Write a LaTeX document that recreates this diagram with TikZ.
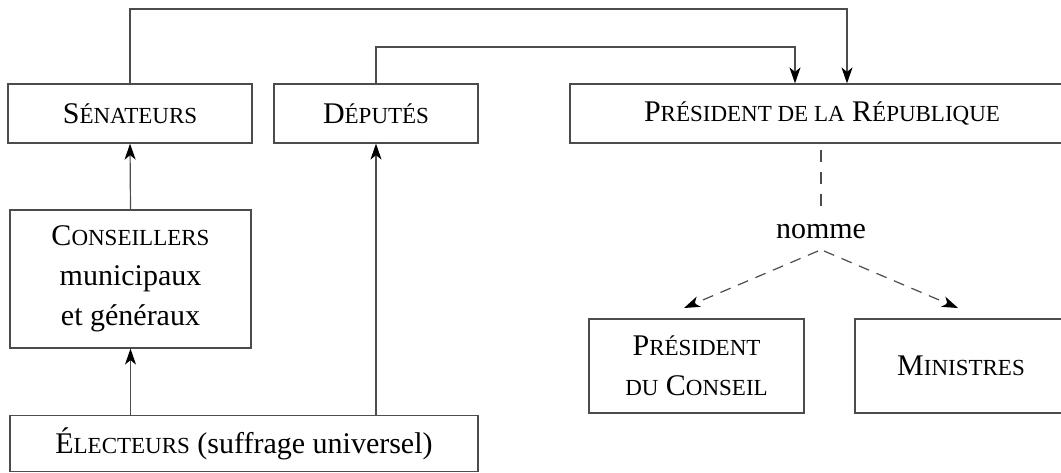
\documentclass[tikz,border=0pt]{standalone}
\usepackage{fontspec}
\setmainfont{Liberation Serif}
\usetikzlibrary{arrows.meta,calc}
\newcommand\smc[1]{{\fontsize{23}{40}\selectfont #1}}
\begin{document}
\begin{tikzpicture}[x=1pt,y=-1pt,
  box/.style={draw=black!70,line width=1.2pt,rectangle,inner sep=0pt,align=center,
    font=\fontsize{30}{40}\selectfont},
  conn/.style={draw=black!70,line width=1.2pt},
  tip/.style={-{Stealth[length=16pt,width=11pt,inset=4.5pt,color=black]}},
  arr/.style={conn,tip},
  dsh/.style={conn,dash pattern=on 11pt off 8pt},
  lbl/.style={inner sep=0pt,font=\fontsize{30}{40}\selectfont}]
\useasboundingbox (0,0) rectangle (1061,472);
\node[box,minimum width=244pt,minimum height=59pt] (sen) at (130,113.5) {S\smc{ÉNATEURS}};
\node[box,minimum width=204pt,minimum height=59pt] (dep) at (376,113.5) {D\smc{ÉPUTÉS}};
\node[box,minimum width=504pt,minimum height=59pt] (pres) at (822,113.5) {P\smc{RÉSIDENT DE LA} R\smc{ÉPUBLIQUE}};
\node[box,minimum width=241pt,minimum height=138pt] (cons) at (130.5,279) {C\smc{ONSEILLERS}\\municipaux\\et généraux};
\node[box,minimum width=468pt,minimum height=56pt] (elec) at (244,443.5) {É\smc{LECTEURS} (suffrage universel)};
\node[box,minimum width=215pt,minimum height=94pt] (pdc) at (696.5,366) {P\smc{RÉSIDENT}\\\smc{DU} C\smc{ONSEIL}};
\node[box,minimum width=212pt,minimum height=94pt] (min) at (961,366) {M\smc{INISTRES}};
\node[lbl] (nom) at (821,232) {nomme};
\coordinate (t1) at (847,9);
\coordinate (t2) at (795,47);
\coordinate (nl) at (818,251);
\coordinate (nr) at (824,251);
\coordinate (el) at (684,308);
\coordinate (er) at (958,308);
\coordinate (de) at (821,207);
\draw[arr] (sen.north) |- (t1) -- (t1 |- pres.north);
\draw[arr] (dep.north) |- (t2) -- (t2 |- pres.north);
\draw[arr] (cons.north) -- (sen.south);
\draw[arr] (elec.north -| cons.south) -- (cons.south);
\draw[arr] (elec.north -| dep.south) -- (dep.south);
\draw[dsh,dash pattern=on 12pt off 10pt,dash phase=-6pt] (pres.south -| de) -- (de);
\draw[dsh,tip] (nl) -- (el);
\draw[dsh,tip] (nr) -- (er);
\end{tikzpicture}
\end{document}
